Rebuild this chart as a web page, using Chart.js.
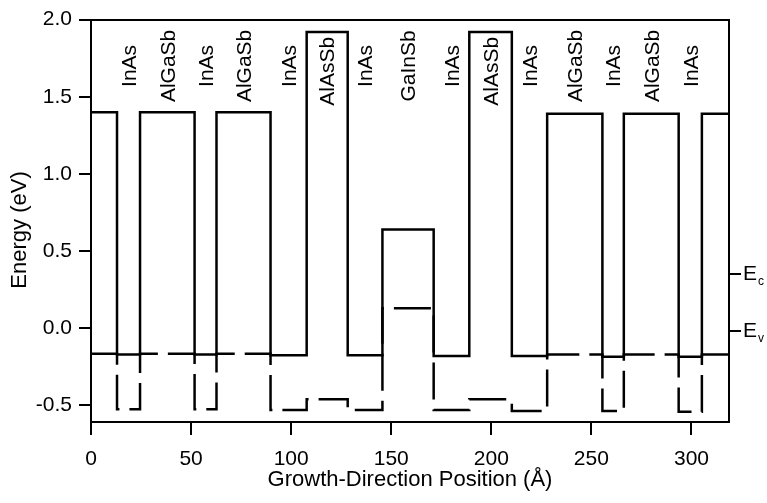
<!DOCTYPE html>
<html>
<head>
<meta charset="utf-8">
<script src="https://cdn.jsdelivr.net/npm/chart.js@4.4.0/dist/chart.umd.min.js"></script>
<style>
  html, body { margin: 0; padding: 0; background: #fff; }
</style>
</head>
<body>
<canvas id="myChart" width="767" height="503"></canvas>
<script>
// layer sequence along growth direction (outer two are partial, unlabeled)
const layers = ['AlGaSb', 'InAs', 'AlGaSb', 'InAs', 'AlGaSb', 'InAs', 'AlAsSb', 'InAs', 'GaInSb',
                'InAs', 'AlAsSb', 'InAs', 'AlGaSb', 'InAs', 'AlGaSb', 'InAs', 'AlGaSb'];
// interface positions (Angstrom)
const edges = [0, 13, 24.5, 51.75, 62.7, 89.7, 107.75, 128.25, 145.6, 171.2, 189, 210.25,
               227.9, 255.5, 266.2, 293.6, 305.2, 318.75];
// conduction band edge per layer (eV)
const ecLevels = [1.40, -0.17, 1.40, -0.17, 1.40, -0.175, 1.92, -0.175, 0.64, -0.18, 1.92, -0.18,
                  1.39, -0.185, 1.39, -0.185, 1.39];
// valence band edge per layer (eV)
const evLevels = [-0.165, -0.525, -0.165, -0.525, -0.165, -0.53, -0.46, -0.53, 0.13, -0.53, -0.46, -0.535,
                  -0.17, -0.535, -0.17, -0.54, -0.17];

const xTicks = [0, 50, 100, 150, 200, 250, 300];
const yTicks = [-0.5, 0, 0.5, 1.0, 1.5, 2.0];
const legendLevels = [0.35, -0.02];
const legendSubs = ['c', 'v'];

const xMin = 0, xMax = 318.75;
const yMin = -0.607, yMax = 2.0;

let bandPoints = (levels) => {
  let pts = [];
  levels.forEach((lv, i) => {
    pts.push({ x: edges[i], y: lv });
    pts.push({ x: edges[i + 1], y: lv });
  });
  return pts;
};

Chart.defaults.font.family = "'Liberation Sans', Arial, sans-serif";
Chart.defaults.color = '#000';

// material names, rotated, above each layer
const layerLabels = {
  id: 'layerLabels',
  afterDatasetsDraw(chart) {
    const { ctx, scales: { x, y } } = chart;
    ctx.save();
    ctx.font = "21px 'Liberation Sans', Arial, sans-serif";
    ctx.fillStyle = '#000';
    ctx.textAlign = 'center';
    ctx.textBaseline = 'middle';
    layers.forEach((name, i) => {
      if (i === 0 || i === layers.length - 1) return;
      const cx = x.getPixelForValue((edges[i] + edges[i + 1]) / 2) + 1.5;
      const cy = y.getPixelForValue(name === 'AlAsSb' ? 1.665 : 1.70);
      ctx.save();
      ctx.translate(cx, cy);
      ctx.rotate(-Math.PI / 2);
      ctx.fillText(name, 0, 0);
      ctx.restore();
    });
    ctx.restore();
  }
};

// subscripts for the E labels on the right
const bandSubs = {
  id: 'bandSubs',
  afterDraw(chart) {
    const { ctx, scales: { y2 } } = chart;
    ctx.save();
    ctx.font = "21px 'Liberation Sans', Arial, sans-serif";
    const w = ctx.measureText('E').width;
    ctx.font = "12px 'Liberation Sans', Arial, sans-serif";
    ctx.fillStyle = '#000';
    ctx.textAlign = 'left';
    ctx.textBaseline = 'alphabetic';
    legendLevels.forEach((v, i) => {
      const py = y2.getPixelForValue(v);
      ctx.fillText(legendSubs[i], y2.left + 14 + w + 1, py + 10.5);
    });
    ctx.restore();
  }
};

const tickFont = { size: 21 };

var ctx = document.getElementById('myChart').getContext('2d');
var myChart = new Chart(ctx, {
  type: 'line',
  data: {
    datasets: [{
      label: 'Ec',
      data: bandPoints(ecLevels),
      borderColor: '#000',
      borderWidth: 2.5,
      pointRadius: 0,
      tension: 0,
      fill: false
    }, {
      label: 'Ev',
      data: bandPoints(evLevels),
      borderColor: '#000',
      borderWidth: 2.5,
      borderDash: [37, 10],
      pointRadius: 0,
      tension: 0,
      fill: false
    }]
  },
  options: {
    responsive: false,
    animation: false,
    devicePixelRatio: 1,
    layout: { padding: 0 },
    plugins: {
      legend: { display: false },
      tooltip: { enabled: false }
    },
    scales: {
      x: {
        type: 'linear',
        position: 'bottom',
        min: xMin,
        max: xMax,
        afterBuildTicks: (axis) => { axis.ticks = xTicks.map(v => ({ value: v })); },
        afterFit: (axis) => { axis.height = 81; },
        grid: { drawOnChartArea: false, tickLength: 13, color: '#000', lineWidth: 2 },
        border: { display: true, color: '#000', width: 2 },
        ticks: { font: tickFont, padding: 12, maxRotation: 0, color: '#000' },
        title: {
          display: true,
          text: 'Growth-Direction Position (Å)',
          font: { size: 22 },
          color: '#000',
          padding: { top: 0, bottom: 10 }
        }
      },
      x2: {
        type: 'linear',
        position: 'top',
        min: xMin,
        max: xMax,
        afterFit: (axis) => { axis.height = 14; },
        grid: { display: false },
        ticks: { display: false },
        border: { display: true, color: '#000', width: 2 }
      },
      y: {
        type: 'linear',
        position: 'left',
        min: yMin,
        max: yMax,
        afterBuildTicks: (axis) => { axis.ticks = yTicks.map(v => ({ value: v })); },
        afterFit: (axis) => { axis.width = 91; },
        grid: { drawOnChartArea: false, tickLength: 12, color: '#000', lineWidth: 2 },
        border: { display: true, color: '#000', width: 2 },
        ticks: { font: tickFont, padding: 7, color: '#000', callback: (v) => v.toFixed(1) },
        title: {
          display: true,
          text: 'Energy (eV)   ',
          font: { size: 22 },
          color: '#000',
          padding: { top: 7, bottom: 0 }
        }
      },
      y2: {
        type: 'linear',
        position: 'right',
        min: yMin,
        max: yMax,
        afterBuildTicks: (axis) => { axis.ticks = legendLevels.map(v => ({ value: v })); },
        afterFit: (axis) => { axis.width = 38; },
        grid: { drawOnChartArea: false, tickLength: 12, color: '#000', lineWidth: 2 },
        border: { display: true, color: '#000', width: 2 },
        ticks: { font: tickFont, padding: 2, color: '#000', callback: () => 'E' }
      }
    }
  },
  plugins: [layerLabels, bandSubs]
});
</script>
</body>
</html>
